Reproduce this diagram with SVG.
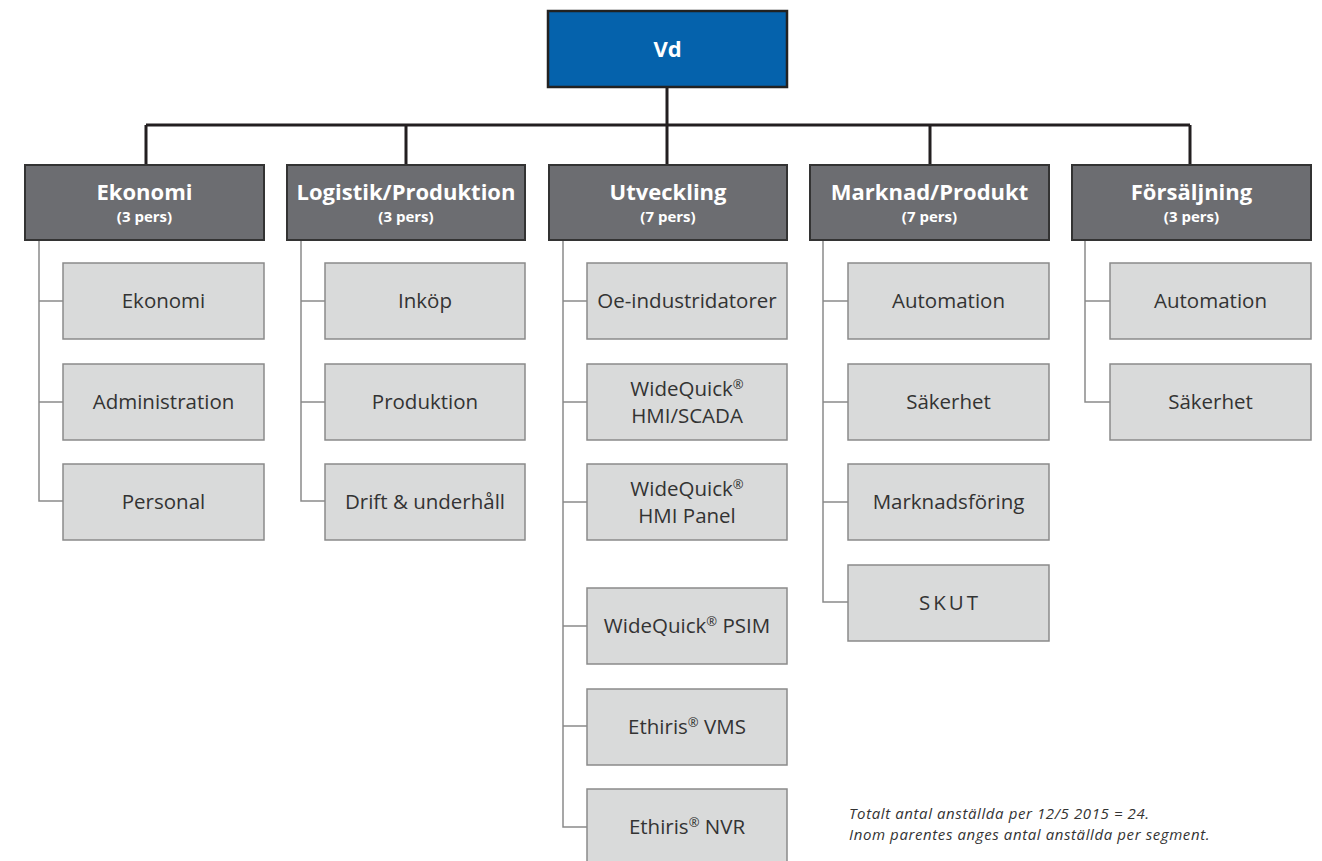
<svg xmlns="http://www.w3.org/2000/svg" width="1322" height="861" viewBox="0 0 1322 861">
<style>
.top{fill:#0562ac;stroke:#222;stroke-width:2.5}
.hd{fill:#6c6d71;stroke:#333;stroke-width:2}
.ch{fill:#d9dada;stroke:#8a8a8a;stroke-width:1.5}
.main{fill:none;stroke:#231f20;stroke-width:3}
.sub{fill:none;stroke:#8a8a8a;stroke-width:1.5}
.ht{font-family:"Open Sans","Noto Sans",sans-serif;font-weight:bold;fill:#fff;text-anchor:middle}
.t1{font-size:22px}
.t2{font-size:15px}
.ct{font-family:"Open Sans","Noto Sans",sans-serif;font-size:20.5px;fill:#333;text-anchor:middle}
.r{font-size:13px}
.fn{font-family:"Open Sans","Noto Sans",sans-serif;font-size:15px;font-style:italic;fill:#333;letter-spacing:0.6px}
</style>
<rect width="1322" height="861" fill="#fff"/>
<g id="connectors">
<path class="main" d="M667 87V125M146 125H1190M146 125V165M406 125V165M667 125V165M930 125V165M1190 125V165"/>
<path class="sub" d="M39 240V501H63M39 301H63M39 402H63"/>
<path class="sub" d="M301 240V501H325M301 301H325M301 402H325"/>
<path class="sub" d="M563 240V827H587M563 301H587M563 402H587M563 502H587M563 626H587M563 726H587"/>
<path class="sub" d="M823 240V602H848M823 301H848M823 402H848M823 502H848"/>
<path class="sub" d="M1085 240V402H1110M1085 301H1110"/>
</g>
<g id="vd"><rect class="top" x="548" y="11" width="239" height="76"/><text class="ht t1" x="667.5" y="57">Vd</text></g>
<g id="h-ekonomi"><rect class="hd" x="25" y="165" width="239" height="75"/><text class="ht t1" x="144.5" y="200">Ekonomi</text><text class="ht t2" x="144.5" y="222">(3 pers)</text></g>
<g id="h-logistik"><rect class="hd" x="287" y="165" width="238" height="75"/><text class="ht t1" x="406" y="200">Logistik/Produktion</text><text class="ht t2" x="406" y="222">(3 pers)</text></g>
<g id="h-utveckling"><rect class="hd" x="549" y="165" width="238" height="75"/><text class="ht t1" x="668" y="200">Utveckling</text><text class="ht t2" x="668" y="222">(7 pers)</text></g>
<g id="h-marknad"><rect class="hd" x="810" y="165" width="239" height="75"/><text class="ht t1" x="929.5" y="200">Marknad/Produkt</text><text class="ht t2" x="929.5" y="222">(7 pers)</text></g>
<g id="h-forsaljning"><rect class="hd" x="1072" y="165" width="239" height="75"/><text class="ht t1" x="1191.5" y="200">Försäljning</text><text class="ht t2" x="1191.5" y="222">(3 pers)</text></g>

<g id="c-ekonomi"><rect class="ch" x="63" y="263" width="201" height="76"/><text class="ct" x="163.5" y="308">Ekonomi</text></g>
<g id="c-administration"><rect class="ch" x="63" y="364" width="201" height="76"/><text class="ct" x="163.5" y="409">Administration</text></g>
<g id="c-personal"><rect class="ch" x="63" y="464" width="201" height="76"/><text class="ct" x="163.5" y="509">Personal</text></g>

<g id="c-inkop"><rect class="ch" x="325" y="263" width="200" height="76"/><text class="ct" x="425" y="308">Inköp</text></g>
<g id="c-produktion"><rect class="ch" x="325" y="364" width="200" height="76"/><text class="ct" x="425" y="409">Produktion</text></g>
<g id="c-drift"><rect class="ch" x="325" y="464" width="200" height="76"/><text class="ct" x="425" y="509">Drift &amp; underhåll</text></g>

<g id="c-oe"><rect class="ch" x="587" y="263" width="200" height="76"/><text class="ct" x="687" y="308">Oe-industridatorer</text></g>
<g id="c-wq-scada"><rect class="ch" x="587" y="364" width="200" height="76"/><text class="ct" x="687" y="396">WideQuick<tspan class="r" dy="-7">®</tspan></text><text class="ct" x="687" y="423">HMI/SCADA</text></g>
<g id="c-wq-panel"><rect class="ch" x="587" y="464" width="200" height="76"/><text class="ct" x="687" y="496">WideQuick<tspan class="r" dy="-7">®</tspan></text><text class="ct" x="687" y="523">HMI Panel</text></g>
<g id="c-psim"><rect class="ch" x="587" y="588" width="200" height="76"/><text class="ct" x="687" y="633">WideQuick<tspan class="r" dy="-7">®</tspan><tspan dy="7"> PSIM</tspan></text></g>
<g id="c-vms"><rect class="ch" x="587" y="689" width="200" height="76"/><text class="ct" x="687" y="734">Ethiris<tspan class="r" dy="-7">®</tspan><tspan dy="7"> VMS</tspan></text></g>
<g id="c-nvr"><rect class="ch" x="587" y="789" width="200" height="80"/><text class="ct" x="687" y="834">Ethiris<tspan class="r" dy="-7">®</tspan><tspan dy="7"> NVR</tspan></text></g>

<g id="c-m-automation"><rect class="ch" x="848" y="263" width="201" height="76"/><text class="ct" x="948.5" y="308">Automation</text></g>
<g id="c-m-sakerhet"><rect class="ch" x="848" y="364" width="201" height="76"/><text class="ct" x="948.5" y="409">Säkerhet</text></g>
<g id="c-m-marknadsforing"><rect class="ch" x="848" y="464" width="201" height="76"/><text class="ct" x="948.5" y="509">Marknadsföring</text></g>
<g id="c-m-skut"><rect class="ch" x="848" y="565" width="201" height="76"/><text class="ct" x="950" y="610" letter-spacing="3">SKUT</text></g>

<g id="c-f-automation"><rect class="ch" x="1110" y="263" width="201" height="76"/><text class="ct" x="1210.5" y="308">Automation</text></g>
<g id="c-f-sakerhet"><rect class="ch" x="1110" y="364" width="201" height="76"/><text class="ct" x="1210.5" y="409">Säkerhet</text></g>

<g id="footnote"><text class="fn" x="849" y="819">Totalt antal anställda per 12/5 2015 = 24.</text><text class="fn" x="849" y="840">Inom parentes anges antal anställda per segment.</text></g>
</svg>
